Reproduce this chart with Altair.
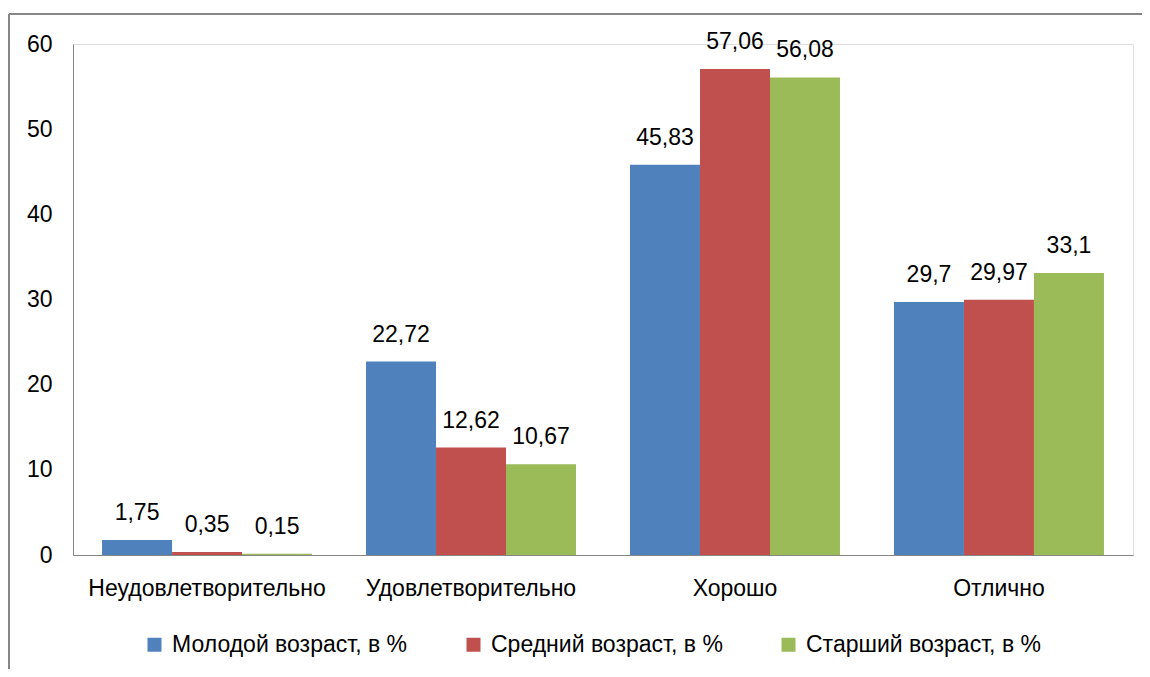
import altair as alt
import pandas as pd

categories = ["Неудовлетворительно", "Удовлетворительно", "Хорошо", "Отлично"]
series = ["Молодой возраст, в %", "Средний возраст, в %", "Старший возраст, в %"]
young = [1.75, 22.72, 45.83, 29.7]
middle = [0.35, 12.62, 57.06, 29.97]
old = [0.15, 10.67, 56.08, 33.1]
colors = ["#4F81BD", "#C0504D", "#9BBB59"]

rows = []
for s, vals in zip(series, [young, middle, old]):
    for c, v in zip(categories, vals):
        rows.append({"cat": c, "series": s, "value": v,
                     "label": (f"{v:g}").replace(".", ",")})
df = pd.DataFrame(rows)

FONT = "Liberation Sans"
FS = 23

x = alt.X("cat:N", sort=categories, title=None,
          scale=alt.Scale(paddingInner=0.2045, paddingOuter=0.11),
          axis=alt.Axis(labelAngle=0, labelFontSize=FS, labelFont=FONT, labelColor="#000",
                        ticks=False, domainColor="#868686", labelPadding=22,
                        labelLimit=400))
xo = alt.XOffset("series:N", sort=series)
y = alt.Y("value:Q", title=None,
          scale=alt.Scale(domain=[0, 60], nice=False),
          axis=alt.Axis(values=[0, 10, 20, 30, 40, 50, 60], grid=False, ticks=False,
                        domainColor="#868686", labelFontSize=FS, labelFont=FONT,
                        labelColor="#000", labelPadding=21))

bars = alt.Chart(df).mark_bar().encode(
    x=x, xOffset=xo, y=y,
    color=alt.Color("series:N", sort=series,
                    scale=alt.Scale(domain=series, range=colors),
                    legend=alt.Legend(title=None, orient="none", direction="horizontal",
                                      legendX=70, legendY=589,
                                      symbolType="square", symbolSize=196,
                                      symbolStrokeWidth=0, labelFontSize=FS,
                                      labelFont=FONT, labelColor="#000",
                                      labelOffset=6, columnPadding=54,
                                      labelLimit=400)),
)

text = alt.Chart(df).mark_text(fontSize=FS, font=FONT, color="#000",
                               baseline="middle", dy=-27).encode(
    x=x, xOffset=xo, y=y, text="label:N"
)

frame_top = alt.Chart(df).mark_rule(color="#868686", strokeWidth=2, clip=False).encode(
    x=alt.value(-64), x2=alt.value(1100), y=alt.value(-30)
)
frame_left = alt.Chart(df).mark_rule(color="#868686", strokeWidth=2, clip=False).encode(
    x=alt.value(-64), y=alt.value(-30), y2=alt.value(700)
)

chart = alt.layer(bars, text, frame_top, frame_left).properties(
    width=1060, height=511,
    autosize=alt.AutoSizeParams(type="none"),
    padding={"left": 65, "top": 36, "right": 9, "bottom": 114},
).configure_view(stroke=None).configure(background="white")

chart.save("out.html", embed_options={"renderer": "svg", "actions": False})
